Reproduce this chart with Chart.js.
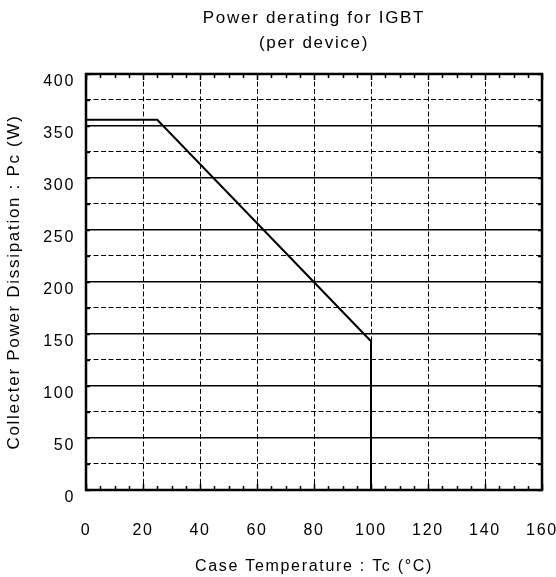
<!DOCTYPE html>
<html>
<head>
<meta charset="utf-8">
<script src="https://cdn.jsdelivr.net/npm/chart.js@4/dist/chart.umd.min.js"></script>
<style>
  body { margin: 0; background: #fff; }
  canvas { display: block; }
</style>
</head>
<body>
<canvas id="derating" width="556" height="577"></canvas>
<script>
// case temperature (°C) and collector power dissipation (W)
const caseTemp = [0, 25, 100, 100];
const powerDiss = [356, 356, 143, 0];

const xTicks = [0, 20, 40, 60, 80, 100, 120, 140, 160];
const yTicks = [0, 50, 100, 150, 200, 250, 300, 350, 400];

const FONT = 'Liberation Sans, Arial, sans-serif';
const SPACING = '1.7px';

// frame and inward tick marks like the original plot
const frameTicks = {
    id: 'frameTicks',
    beforeUpdate(chart) {
        chart.ctx.letterSpacing = SPACING;
    },
    beforeDraw(chart) {
        chart.ctx.letterSpacing = SPACING;
    },
    afterDatasetsDraw(chart) {
        const ctx = chart.ctx;
        const a = chart.chartArea;
        const xs = chart.scales.x, ys = chart.scales.y;
        ctx.save();
        ctx.strokeStyle = '#000';
        ctx.lineWidth = 1.5;
        for (let v = 0; v <= 160; v += 5) {
            const px = Math.round(xs.getPixelForValue(v)) + 0.5;
            const len = v % 20 === 0 ? 6 : 4;
            ctx.beginPath();
            ctx.moveTo(px, a.bottom); ctx.lineTo(px, a.bottom - len);
            ctx.moveTo(px, a.top); ctx.lineTo(px, a.top + len);
            ctx.stroke();
        }
        for (let v = 0; v <= 400; v += 25) {
            const py = Math.round(ys.getPixelForValue(v)) + 0.5;
            ctx.beginPath();
            ctx.moveTo(a.left, py); ctx.lineTo(a.left + 4, py);
            ctx.moveTo(a.right, py); ctx.lineTo(a.right - 4, py);
            ctx.stroke();
        }
        ctx.lineWidth = 2.5;
        ctx.strokeRect(a.left, a.top, a.right - a.left, a.bottom - a.top);
        ctx.restore();
    }
};

const data = {
    datasets: [{
        label: 'Pc',
        data: caseTemp.map((t, i) => ({ x: t, y: powerDiss[i] })),
        borderColor: '#000',
        borderWidth: 2,
        pointRadius: 0,
        tension: 0,
        fill: false
    }]
};

const config = {
    type: 'line',
    data: data,
    options: {
        responsive: false,
        animation: false,
        layout: { padding: { left: 0, right: 14, top: 0, bottom: 0 } },
        plugins: {
            legend: { display: false },
            tooltip: { enabled: false },
            title: {
                display: true,
                fullSize: false,
                text: ['Power derating for IGBT', '(per device)'],
                color: '#000',
                font: { family: FONT, size: 17, weight: 'normal', lineHeight: 1.47 },
                padding: { top: 6, bottom: 18 }
            }
        },
        scales: {
            x: {
                type: 'linear',
                min: 0,
                max: 160,
                afterBuildTicks(scale) {
                    scale.ticks = xTicks.map(v => ({ value: v }));
                },
                afterFit(scale) {
                    scale.height = 87;
                    scale.paddingLeft = 0;
                    scale.paddingRight = 0;
                },
                ticks: {
                    color: '#000',
                    font: { family: FONT, size: 16 },
                    padding: 31,
                    maxRotation: 0
                },
                grid: {
                    color: '#000',
                    lineWidth: 1,
                    drawTicks: false
                },
                border: { display: false, dash: [5, 2.5] },
                title: {
                    display: true,
                    text: 'Case Temperature : Tc (°C)',
                    color: '#000',
                    font: { family: FONT, size: 16 },
                    padding: { top: 20, bottom: 1 }
                }
            },
            y: {
                min: 0,
                max: 400,
                afterBuildTicks(scale) {
                    const t = [];
                    for (let v = 0; v <= 400; v += 25) t.push({ value: v });
                    scale.ticks = t;
                },
                afterFit(scale) {
                    scale.width = 86;
                    scale.paddingTop = 0;
                    scale.paddingBottom = 0;
                },
                ticks: {
                    color: '#000',
                    font: { family: FONT, size: 16 },
                    padding: 11,
                    labelOffset: 8,
                    callback: v => yTicks.includes(v) ? String(v) : ''
                },
                grid: {
                    color: '#000',
                    lineWidth: ctx => (ctx.tick && ctx.tick.value % 50 === 0) ? 1.5 : 1,
                    drawTicks: false
                },
                border: {
                    display: false,
                    dash: ctx => (ctx.tick && ctx.tick.value % 50 !== 0) ? [5, 2.5] : []
                },
                title: {
                    display: true,
                    text: 'Collecter Power Dissipation : Pc (W)',
                    color: '#000',
                    font: { family: FONT, size: 17 },
                    padding: { top: 4, bottom: 4 }
                }
            }
        }
    },
    plugins: [frameTicks]
};

const myChart = new Chart(document.getElementById('derating'), config);
</script>
</body>
</html>
